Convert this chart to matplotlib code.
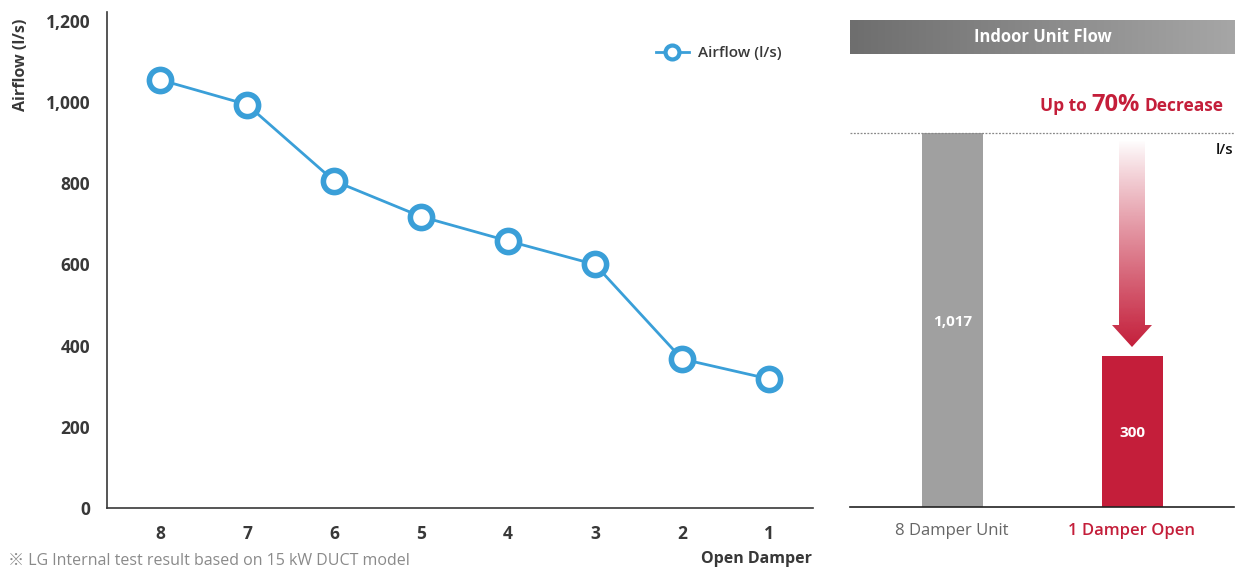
import numpy as np
import matplotlib
matplotlib.use("Agg")
import matplotlib.pyplot as plt
from matplotlib.lines import Line2D
from matplotlib.patches import Polygon

plt.rcParams['font.family'] = ['Open Sans', 'DejaVu Sans']

# ---- data ----
dampers = ["8", "7", "6", "5", "4", "3", "2", "1"]
airflow = [1055, 994, 806, 718, 658, 600, 367, 318]
y_ticks = [0, 200, 400, 600, 800, 1000, 1200]
y_tick_labels = ["0", "200", "400", "600", "800", "1,000", "1,200"]

bar_categories = ["8 Damper Unit", "1 Damper Open"]
bar_heights = [1017, 411]          # visual heights as drawn
bar_labels = ["1,017", "300"]

W, H = 1243, 569
fig = plt.figure(figsize=(W / 100, H / 100), dpi=100)

def fx(px):
    return px / W

def fy(py):
    return 1 - py / H

DARK = "#383838"
BLUE = "#3a9fd8"
RED = "#c41e3a"
GRAY_BAR = "#a0a0a0"

# ---- left line chart ----
ax = fig.add_axes([fx(107), fy(508), fx(813) - fx(107), fy(12) - fy(508)])
x = np.arange(len(dampers))
ax.plot(x, airflow, color=BLUE, lw=2, marker="o", ms=16, mew=4,
        mfc="white", mec=BLUE, zorder=3, clip_on=False)
ax.set_xlim(-53 / 87, 7 + 44 / 87)
ax.set_ylim(0, 1222)
ax.set_yticks(y_ticks)
ax.set_yticklabels(y_tick_labels)
ax.set_xticks(x)
ax.set_xticklabels(dampers)
for s in ["top", "right"]:
    ax.spines[s].set_visible(False)
for s in ["left", "bottom"]:
    ax.spines[s].set_color(DARK)
    ax.spines[s].set_linewidth(1.2)
ax.tick_params(axis="both", length=0, colors=DARK, labelsize=12.5)
ax.tick_params(axis="y", pad=12)
ax.tick_params(axis="x", pad=12)
for lab in ax.get_xticklabels() + ax.get_yticklabels():
    lab.set_fontweight("bold")
ax.set_ylabel("Airflow (l/s)", fontsize=11.5, fontweight="bold", color=DARK)
ax.yaxis.set_label_coords(-(107 - 29) / 706, 0.893)

handle = Line2D([], [], color=BLUE, lw=2, marker="o", ms=10, mew=3,
                mfc="white", mec=BLUE)
ax.legend([handle], ["Airflow (l/s)"], loc="center right",
          bbox_to_anchor=(fx(782), fy(53)), bbox_transform=fig.transFigure,
          frameon=False, borderaxespad=0, borderpad=0, handlelength=2.2,
          handletextpad=0.6, prop={"size": 11, "weight": "semibold"},
          labelcolor=DARK)

fig.text(fx(812), fy(559), "Open Damper", ha="right", va="center",
         fontsize=11.5, fontweight="bold", color=DARK)
fig.text(fx(8), fy(569), "\u203b LG Internal test result based on 15 kW DUCT model",
         ha="left", va="bottom", fontsize=11.5, color="#8a8a8a",
         family=["Open Sans", "Noto Sans CJK JP", "DejaVu Sans"])

# ---- right bar panel ----
px_per_unit = 374 / 1017
top_val = (507 - 20) / px_per_unit
ax2 = fig.add_axes([fx(850), fy(507), fx(1234) - fx(850), fy(20) - fy(507)])
xl = (-102.5 / 180, 1 + 101.5 / 180)
ax2.set_xlim(*xl)
ax2.set_ylim(0, top_val)
ax2.axis("off")

bx = np.arange(len(bar_categories))
ax2.bar(bx, bar_heights, width=61 / 180, color=[GRAY_BAR, RED], zorder=2)
label_y = [(507 - 322) / px_per_unit, (507 - 433) / px_per_unit]
for xi, ly, t in zip(bx, label_y, bar_labels):
    ax2.text(xi, ly, t, ha="center", va="center", color="white",
             fontsize=11, fontweight="bold", zorder=4)

# baseline
ax2.axhline(0, color="#222222", lw=1.2, zorder=3, clip_on=False)
# dotted reference line
ax2.axhline(bar_heights[0], color="#888888", lw=0.9, ls=(0, (1.5, 1.2)), zorder=3)

# header gradient
header_bottom = (507 - 54) / px_per_unit
grad = np.linspace(0, 1, 256).reshape(1, -1)
c0 = np.array([0x6e, 0x6e, 0x6e]) / 255
c1 = np.array([0xa6, 0xa6, 0xa6]) / 255
img = c0[None, None, :] * (1 - grad[..., None]) + c1[None, None, :] * grad[..., None]
ax2.imshow(img, extent=[xl[0], xl[1], header_bottom, top_val], aspect="auto",
           zorder=1, interpolation="bilinear")
ax2.text(0.5, (header_bottom + top_val) / 2, "Indoor Unit Flow", ha="center",
         va="center", color="white", fontsize=12, fontweight="bold", zorder=4)

# gradient arrow
def ux(px):
    return xl[0] + (px - 850) / 180

def uy(py):
    return (507 - py) / px_per_unit

arrow_pts = [(ux(1119), uy(140)), (ux(1145), uy(140)), (ux(1145), uy(325)),
             (ux(1152), uy(325)), (ux(1132), uy(347)), (ux(1112), uy(325)),
             (ux(1119), uy(325))]
poly = Polygon(arrow_pts, closed=True, facecolor="none", edgecolor="none")
ax2.add_patch(poly)
v = np.linspace(0, 1, 256).reshape(-1, 1)
rgba = np.zeros((256, 1, 4))
rgba[..., 0] = 0xc4 / 255
rgba[..., 1] = 0x1e / 255
rgba[..., 2] = 0x3a / 255
rgba[..., 3] = v ** 0.9
arr_img = ax2.imshow(rgba, extent=[ux(1112), ux(1152), uy(347), uy(140)],
                     aspect="auto", zorder=3, interpolation="bilinear")
arr_img.set_clip_path(poly)

# annotation texts
BASE = fy(111)
t1 = fig.text(fx(1224), BASE, "Decrease", ha="right", va="baseline",
              fontsize=12.5, fontweight="bold", color=RED)
t2 = fig.text(0, BASE, "70%", ha="right", va="baseline", fontsize=17,
              fontweight="bold", color=RED)
t3 = fig.text(0, BASE, "Up to", ha="right", va="baseline", fontsize=12.5,
              fontweight="bold", color=RED)
fig.canvas.draw()
r = fig.canvas.get_renderer()
bb1 = t1.get_window_extent(r)
t2.set_position((fx(bb1.x0 - 5), BASE))
fig.canvas.draw()
bb2 = t2.get_window_extent(r)
t3.set_position((fx(bb2.x0 - 5), BASE))

fig.text(fx(1233), fy(150), "l/s", ha="right", va="center",
         fontsize=11, color="#111111", fontweight="semibold")

fig.text(fx(952), fy(531), bar_categories[0], ha="center", va="center",
         fontsize=12, color="#666666")
fig.text(fx(1132), fy(531), bar_categories[1], ha="center", va="center",
         fontsize=12, color=RED, fontweight="semibold")

fig.savefig("out.png", dpi=100)
